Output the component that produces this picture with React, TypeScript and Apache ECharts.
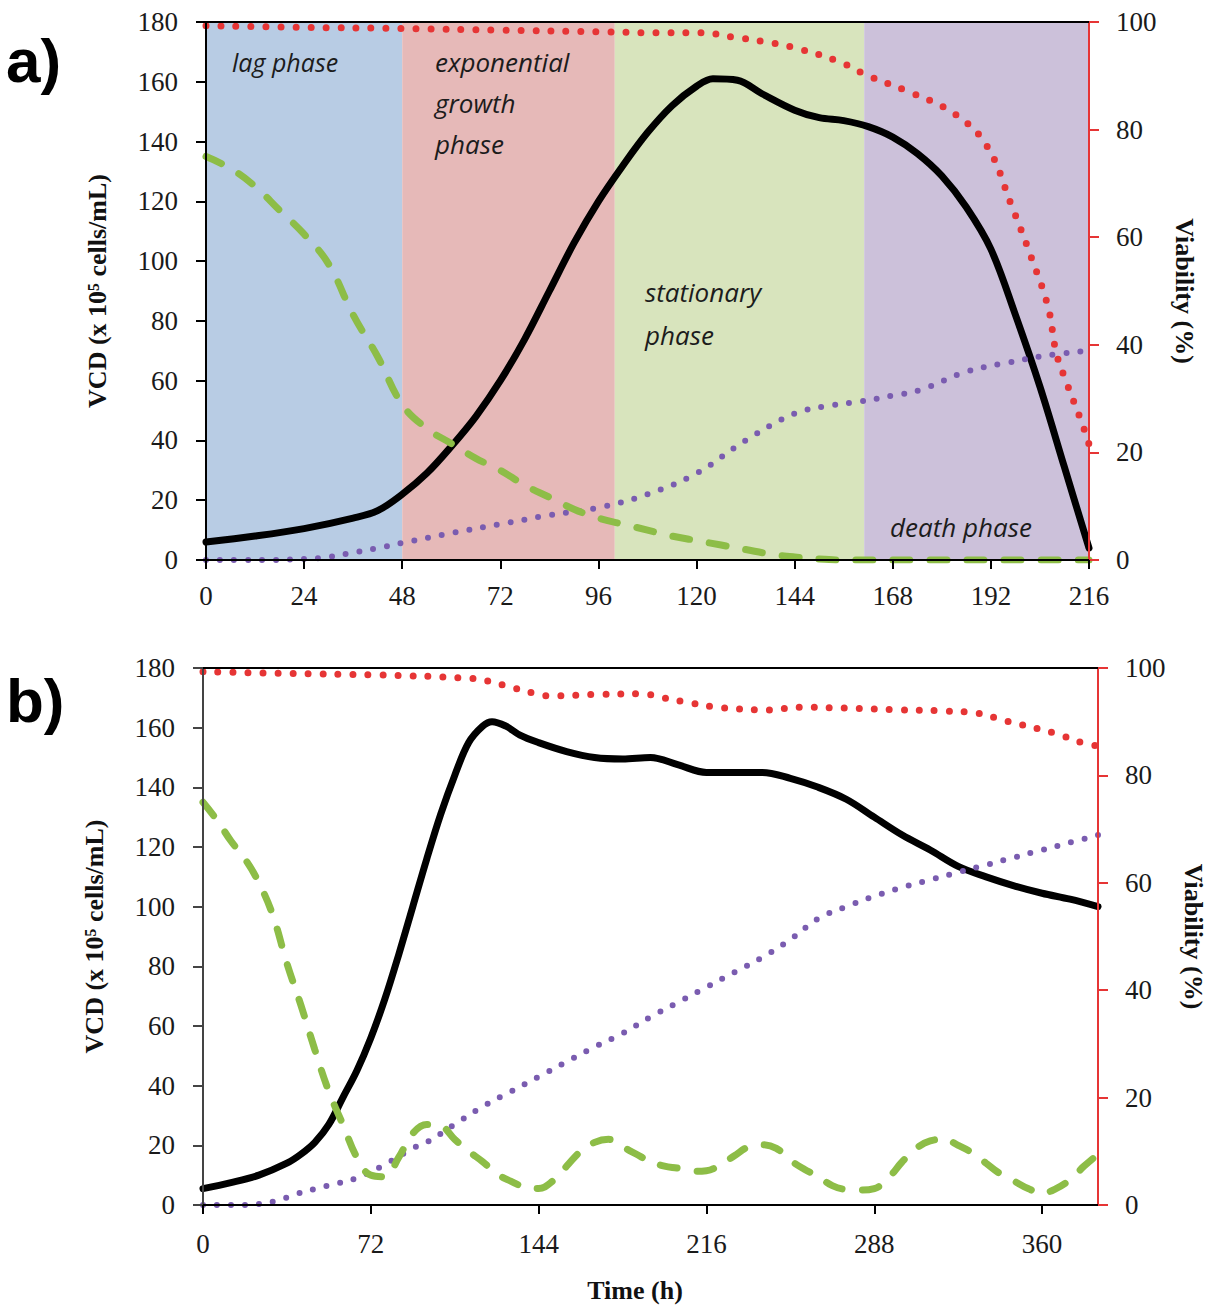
import React, { useEffect, useRef } from "react";
import * as echarts from "echarts";

// ---------- Panel a (time in h, 0-216) ----------
const phaseNames = ["lag phase", "exponential growth phase", "stationary phase", "death phase"];
const phaseBounds: [number, number][] = [[0, 48], [48, 100], [100, 161], [161, 216]];
const phaseColors = ["#b8cce4", "#e6b9b8", "#d8e4bd", "#ccc1da"];

const vcdA: [number, number][] = [
  [0, 6], [12, 8], [24, 10.5], [36, 14], [42, 16.5], [48, 22], [54, 29], [60, 38], [66, 48],
  [72, 60], [78, 74], [84, 90], [90, 106], [96, 120], [102, 132], [108, 143], [114, 152],
  [120, 158.5], [124, 161], [130, 160.5], [136, 156], [144, 150.5], [150, 148], [156, 147],
  [162, 145], [168, 141.5], [174, 136], [180, 128.5], [186, 118], [192, 104], [198, 82],
  [204, 58], [210, 31], [216, 4],
];
const viabilityA: [number, number][] = [
  [0, 99.3], [24, 99], [48, 98.8], [72, 98.5], [96, 98.2], [110, 98], [121, 98],
  [129, 97.2], [137, 96.3], [145, 95], [155, 92.6], [162, 90], [172, 87], [183, 83],
  [191, 77], [197, 66], [202, 56], [206, 47], [208, 38.5], [210.5, 33], [214.5, 25], [216, 21.5],
];
const lactateA: [number, number][] = [
  [0, 0], [12, 0], [24, 0.3], [30, 1], [36, 2.5], [42, 4], [48, 5.7], [60, 9], [72, 12],
  [84, 15], [96, 17.5], [108, 22], [120, 29], [132, 40], [144, 49], [152, 51.5], [160, 53],
  [168, 55], [175, 57], [186, 63], [196, 66], [206, 68.5], [216, 70],
];
const glucoseA: [number, number][] = [
  [0, 135], [6, 131], [12, 125], [18, 117], [24, 109], [30, 99], [36, 82], [42, 68],
  [48, 52], [54, 44], [60, 39], [66, 34], [72, 30], [78, 25], [84, 21], [90, 17], [96, 14],
  [102, 12], [108, 10], [114, 8], [120, 6.5], [126, 5], [132, 3.5], [138, 2], [144, 1],
  [150, 0.3], [156, 0], [216, 0],
];

// ---------- Panel b (time in h, 0-384) ----------
const vcdB: [number, number][] = [
  [0, 5.5], [12, 7.5], [24, 10], [36, 14], [42, 17], [48, 21], [54, 27], [60, 36], [66, 45],
  [72, 56], [78, 69], [84, 84], [90, 100], [96, 116], [102, 131], [108, 144], [114, 155],
  [120, 160.5], [124, 162], [130, 160.5], [136, 157.5], [144, 155], [156, 152], [168, 150],
  [180, 149.5], [192, 150], [204, 147.5], [216, 145], [228, 145], [240, 145], [252, 143],
  [264, 140], [276, 136], [288, 130], [300, 124], [312, 119], [324, 113.5], [336, 110],
  [348, 107], [360, 104.5], [372, 102.5], [384, 100],
];
const viabilityB: [number, number][] = [
  [0, 99.3], [36, 99], [75, 98.7], [114, 98.1], [122, 97.6], [129, 96.8], [142, 95.3],
  [149, 94.8], [170, 95.1], [189, 95.2], [196, 94.6], [209, 93.5], [223, 92.6], [243, 92.2],
  [256, 92.7], [278, 92.5], [299, 92.2], [318, 92], [332, 91.6], [345, 90.1], [365, 87.9],
  [378, 86], [384, 85.5],
];
const lactateB: [number, number][] = [
  [0, 0], [12, 0], [24, 0.3], [34, 2], [40, 3.7], [53, 6.4], [66, 9], [79, 14], [90, 19],
  [96, 21], [108, 27], [120, 33], [132, 38], [144, 43], [156, 48], [168, 53], [180, 57.5],
  [192, 63], [204, 68], [216, 73], [228, 78], [240, 83], [252, 89], [264, 96], [276, 100],
  [288, 103.5], [300, 106.5], [312, 109], [324, 111.5], [336, 114], [348, 116.5],
  [360, 119], [372, 121.5], [384, 124],
];
const glucoseB: [number, number][] = [
  [0, 135], [6, 129], [12, 122], [18, 116], [24, 108], [30, 97], [36, 81], [42, 67],
  [48, 52], [54, 38], [60, 27], [66, 16], [72, 10], [78, 9.5], [84, 16], [90, 24], [96, 27],
  [102, 26.5], [108, 22], [114, 18], [120, 14.5], [126, 10.5], [132, 8], [138, 6], [144, 5.5],
  [150, 8], [156, 13], [162, 18], [168, 21], [174, 22], [180, 19.5], [186, 17], [192, 14.5],
  [198, 13], [204, 12.3], [210, 11.3], [216, 11.5], [222, 13.5], [228, 16.5], [234, 19.5],
  [240, 20.2], [246, 19], [252, 15], [258, 12], [264, 9.5], [270, 6.5], [276, 5.2], [282, 5],
  [288, 5.5], [294, 9], [300, 14.5], [306, 19], [312, 21.5], [318, 22], [324, 20], [330, 17.5],
  [336, 14], [342, 10.5], [348, 8], [354, 5.5], [360, 4], [366, 5.5], [372, 8.5], [378, 13],
  [384, 17],
];

const xTicksA = { min: 0, max: 216, interval: 24 };
const xTicksB = { min: 0, max: 384, interval: 72 };
const vcdAxis = { min: 0, max: 180, interval: 20 };
const viabAxis = { min: 0, max: 100, interval: 20 };

const BLACK = "#000000";
const RED = "#e63535";
const PURPLE = "#7a5cb0";
const GREEN = "#8dbd47";
const SERIF = "'Liberation Serif', 'Times New Roman', serif";
const SANS_IT = "'Open Sans', Lato, sans-serif";

function xAxisPair(grid: number, t: { min: number; max: number; interval: number }, margin: number) {
  return [
    {
      type: "value", gridIndex: grid, position: "bottom", ...t, z: 10,
      axisLine: { show: true, onZero: false, lineStyle: { color: BLACK, width: 2 } },
      axisTick: { show: true, inside: false, length: 9, lineStyle: { color: BLACK, width: 2 } },
      axisLabel: { showMaxLabel: t.max % t.interval === 0, margin, fontFamily: SERIF, fontSize: 27, color: "#1a1a1a" },
      splitLine: { show: false },
    },
    {
      type: "value", gridIndex: grid, position: "top", ...t, z: 10,
      axisLine: { show: true, onZero: false, lineStyle: { color: BLACK, width: 2 } },
      axisTick: { show: false }, axisLabel: { show: false }, splitLine: { show: false },
    },
  ];
}

function yAxisPair(grid: number, leftColor: string) {
  return [
    {
      type: "value", gridIndex: grid, position: "left", ...vcdAxis, z: 10,
      name: "VCD (x 10⁵ cells/mL)", nameLocation: "middle", nameGap: 96,
      nameTextStyle: { fontFamily: SERIF, fontWeight: "bold", fontSize: 26, color: "#111" },
      axisLine: { show: true, onZero: false, lineStyle: { color: leftColor, width: 2 } },
      axisTick: { show: true, length: 10, lineStyle: { color: leftColor, width: 2 } },
      axisLabel: { margin: 28, fontFamily: SERIF, fontSize: 27, color: "#1a1a1a" },
      splitLine: { show: false },
    },
    {
      type: "value", gridIndex: grid, position: "right", ...viabAxis, z: 10,
      name: "Viability (%)", nameLocation: "middle", nameGap: 82, nameRotate: -90,
      nameTextStyle: { fontFamily: SERIF, fontWeight: "bold", fontSize: 26, color: "#111" },
      axisLine: { show: true, onZero: false, lineStyle: { color: RED, width: 2 } },
      axisTick: { show: true, length: 10, lineStyle: { color: RED, width: 2 } },
      axisLabel: { margin: 27, fontFamily: SERIF, fontSize: 27, color: "#1a1a1a" },
      splitLine: { show: false },
    },
  ];
}

function panelSeries(xIdx: number, yLeft: number, yRight: number, vcd: any, via: any, lac: any, glu: any) {
  const base = { type: "line", xAxisIndex: xIdx, yAxisIndex: yLeft, showSymbol: false, symbol: "none", silent: true };
  return [
    { ...base, name: "VCD", data: vcd, smooth: 0.35, z: 3, lineStyle: { color: BLACK, width: 7, cap: "round", join: "round" } },
    { ...base, name: "Lactate", data: lac, smooth: 0.4, z: 4, lineStyle: { color: PURPLE, width: 6, type: [0, 14], cap: "round" } },
    { ...base, name: "Viability", yAxisIndex: yRight, data: via, smooth: 0.4, z: 5, lineStyle: { color: RED, width: 7, type: [0, 15], cap: "round" } },
    { ...base, name: "Glucose", data: glu, smooth: 0.4, z: 6, lineStyle: { color: GREEN, width: 7, type: [17, 20], cap: "round" } },
  ];
}

export default function App() {
  const ref = useRef<HTMLDivElement>(null);
  useEffect(() => {
    document.body.style.margin = "0";
    if (!ref.current) return;
    const chart = echarts.init(ref.current, undefined, { renderer: "svg" });
    const phaseArea = phaseBounds.map((b, i) => [
      { xAxis: b[0], itemStyle: { color: phaseColors[i], opacity: 1 } },
      { xAxis: b[1] },
    ]);
    const phaseText = (text: string, x: number, y: number, size = 26) => ({
      type: "text", x, y, z: 20,
      style: { text, fill: "#1c1c1c", font: `italic ${size}px ${SANS_IT}`, textVerticalAlign: "middle" },
    });
    const option: any = {
      animation: false,
      backgroundColor: "#ffffff",
      grid: [
        { left: 206, right: 122, top: 22, height: 538, containLabel: false, outerBoundsMode: "none" },
        { left: 203, right: 113, top: 668, height: 537, containLabel: false, outerBoundsMode: "none" },
      ],
      xAxis: [...xAxisPair(0, xTicksA, 22), ...xAxisPair(1, xTicksB, 25)],
      yAxis: [...yAxisPair(0, BLACK), ...yAxisPair(1, "#444")],
      series: [
        {
          type: "line", xAxisIndex: 0, yAxisIndex: 0, data: [], silent: true, z: 1,
          markArea: { silent: true, z: 1, data: phaseArea },
        },
        ...panelSeries(0, 0, 1, vcdA, viabilityA, lactateA, glucoseA),
        ...panelSeries(2, 2, 3, vcdB, viabilityB, lactateB, glucoseB),
      ],
      graphic: [
        { type: "text", x: 6, y: 60, z: 20, style: { text: "a)", fill: "#000", font: "bold 62px 'Liberation Sans', Arial, sans-serif", textVerticalAlign: "middle" } },
        { type: "text", x: 6, y: 700, z: 20, style: { text: "b)", fill: "#000", font: "bold 62px 'Liberation Sans', Arial, sans-serif", textVerticalAlign: "middle" } },
        phaseText(phaseNames[0], 232, 62, 25),
        phaseText("exponential", 435, 62),
        phaseText("growth", 435, 103),
        phaseText("phase", 435, 144),
        phaseText("stationary", 645, 292),
        phaseText("phase", 645, 335),
        phaseText(phaseNames[3], 890, 527),
        { type: "text", x: 635, y: 1290, z: 20, style: { text: "Time (h)", fill: "#111", font: `bold 26px ${SERIF}`, textAlign: "center", textVerticalAlign: "middle" } },
      ],
    };
    chart.setOption(option);
    return () => chart.dispose();
  }, []);
  return <div ref={ref} style={{ width: 1211, height: 1310 }} />;
}
